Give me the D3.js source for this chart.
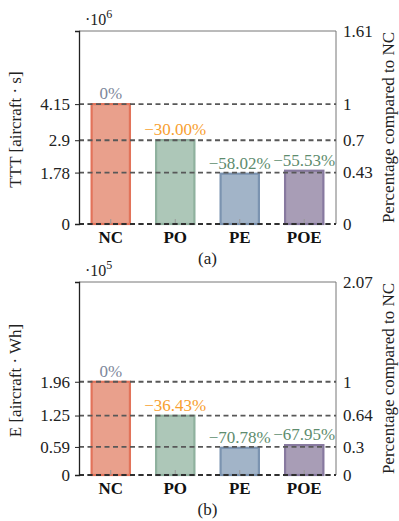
<!DOCTYPE html>
<html>
<head>
<meta charset="utf-8">
<script src="https://cdn.jsdelivr.net/npm/d3@7"></script>
<style>
  body { margin: 0; background: #fff; }
</style>
</head>
<body>
<svg id="chart" width="399" height="521"></svg>
<script>
const categories = ['NC', 'PO', 'PE', 'POE'];

// panel (a): TTT, x10^6
const tttValues = [4.15, 2.905, 1.742, 1.845];
const tttLabels = ['0%', '\u221230.00%', '\u221258.02%', '\u221255.53%'];
const tttTicks = [0, 1.78, 2.9, 4.15];
const tttRightTicks = ['0', '0.43', '0.7', '1', '1.61'];
const tttMax = 4.15 * 1.61;

// panel (b): E, x10^5
const eValues = [1.96, 1.246, 0.573, 0.628];
const eLabels = ['0%', '\u221236.43%', '\u221270.78%', '\u221267.95%'];
const eTicks = [0, 0.59, 1.25, 1.96];
const eRightTicks = ['0', '0.3', '0.64', '1', '2.07'];
const eMax = 1.96 * 2.07;

const fills = ['#e9a08c', '#adc7b8', '#a2b4c8', '#a89db6'];
const strokes = ['#e2735a', '#8fb19e', '#7b93b0', '#87799f'];
const labelColors = ['#7d879b', '#f7a030', '#5e8c6e', '#5e8c6e'];

const FONT = '"Liberation Serif", "Times New Roman", "DejaVu Serif", serif';

const svg = d3.select('#chart').style('font-family', FONT);
const left = 79, right = 336;

function panel(cfg) {
  const g = svg.append('g');
  const x = d3.scaleBand().domain(categories).range([left, right]).paddingInner(0.375).paddingOuter(0.18);
  const y = d3.scaleLinear().domain([0, cfg.max]).range([cfg.bottom, cfg.top]);
  const yr = d3.scaleLinear().domain([0, cfg.max / cfg.values[0]]).range([cfg.bottom, cfg.top]);

  // bars
  g.selectAll('.bar').data(cfg.values).enter().append('rect')
    .attr('x', (d, i) => x(categories[i]) + 1)
    .attr('width', x.bandwidth() - 2)
    .attr('y', d => y(d))
    .attr('height', d => y(0) - y(d))
    .attr('fill', (d, i) => fills[i])
    .attr('stroke', (d, i) => strokes[i])
    .attr('stroke-width', 2.2);

  // inner x ticks
  g.selectAll('.xt').data(categories).enter().append('line')
    .attr('x1', d => x(d) + x.bandwidth() / 2).attr('x2', d => x(d) + x.bandwidth() / 2)
    .attr('y1', cfg.bottom).attr('y2', cfg.bottom - 5)
    .attr('stroke', '#999').attr('stroke-width', 1);

  // frame
  g.append('line').attr('x1', left).attr('x2', right).attr('y1', cfg.top).attr('y2', cfg.top)
    .attr('stroke', '#777').attr('stroke-width', 1);
  g.append('line').attr('x1', right).attr('x2', right).attr('y1', cfg.top).attr('y2', cfg.bottom)
    .attr('stroke', '#777').attr('stroke-width', 1);

  // dashed reference lines
  g.selectAll('.grid').data(cfg.ticks).enter().append('line')
    .attr('x1', left).attr('x2', right)
    .attr('y1', d => y(d)).attr('y2', d => y(d))
    .attr('stroke', '#585858').attr('stroke-width', 1.8)
    .attr('stroke-dasharray', '5,3.5');

  // left axis
  const ya = d3.axisLeft(y).tickValues(cfg.ticks).tickSize(4).tickPadding(5)
    .tickFormat(d => d3.format('~g')(d));
  const ag = g.append('g').attr('transform', `translate(${left},0)`).call(ya);
  ag.attr('font-family', null).style('font-family', FONT);
  ag.select('.domain').attr('stroke', '#222').attr('stroke-width', 1.3);
  ag.selectAll('.tick line').attr('stroke', '#222');
  ag.selectAll('text').attr('font-size', 17).attr('fill', '#222');

  // bottom line
  g.append('line').attr('x1', left).attr('x2', right).attr('y1', cfg.bottom).attr('y2', cfg.bottom)
    .attr('stroke', '#222').attr('stroke-width', 1.6).attr('stroke-dasharray', '5,3.5');

  // right tick labels
  const rvals = cfg.rightTicks.map((t, i) => i < cfg.ticks.length ? cfg.ticks[i] / cfg.values[0] : cfg.max / cfg.values[0]);
  g.selectAll('.rt').data(cfg.rightTicks).enter().append('text')
    .attr('x', right + 7)
    .attr('y', (d, i) => yr(rvals[i]))
    .attr('dy', '0.34em')
    .attr('font-size', 17).attr('fill', '#222')
    .text(d => d);

  // bar labels
  g.selectAll('.bl').data(cfg.labels).enter().append('text')
    .attr('x', (d, i) => x(categories[i]) + x.bandwidth() / 2)
    .attr('y', (d, i) => y(cfg.values[i]) - 5)
    .attr('text-anchor', 'middle')
    .attr('font-size', 17)
    .attr('fill', (d, i) => labelColors[i])
    .text(d => d);

  // category labels
  g.selectAll('.cl').data(categories).enter().append('text')
    .attr('x', d => x(d) + x.bandwidth() / 2)
    .attr('y', cfg.bottom + 19)
    .attr('text-anchor', 'middle')
    .attr('font-size', 17).attr('font-weight', 'bold').attr('fill', '#111')
    .text(d => d);

  // exponent
  const ex = g.append('text').attr('x', 85).attr('y', cfg.top - 6).attr('font-size', 16).attr('fill', '#222');
  ex.append('tspan').text('\u00b710');
  ex.append('tspan').attr('dy', -7).attr('font-size', 12).text(cfg.exp);

  // axis titles
  const mid = (cfg.top + cfg.bottom) / 2;
  g.append('text').attr('transform', `translate(21,${mid + 2}) rotate(-90)`)
    .attr('text-anchor', 'middle').attr('font-size', 17).attr('fill', '#222')
    .text(cfg.title);
  g.append('text').attr('transform', `translate(394,${mid}) rotate(-90)`)
    .attr('text-anchor', 'middle').attr('font-size', 17).attr('fill', '#222')
    .text('Percentage compared to NC');

  // caption
  g.append('text').attr('x', (left + right) / 2).attr('y', cfg.bottom + 40)
    .attr('text-anchor', 'middle').attr('font-size', 17).attr('fill', '#222')
    .text(cfg.caption);
}

panel({ top: 31, bottom: 224, max: tttMax, values: tttValues, labels: tttLabels, ticks: tttTicks,
  rightTicks: tttRightTicks, exp: '6', title: 'TTT [aircraft \u00b7 s]', caption: '(a)' });
panel({ top: 282, bottom: 475, max: eMax, values: eValues, labels: eLabels, ticks: eTicks,
  rightTicks: eRightTicks, exp: '5', title: 'E [aircraft \u00b7 Wh]', caption: '(b)' });
</script>
</body>
</html>
